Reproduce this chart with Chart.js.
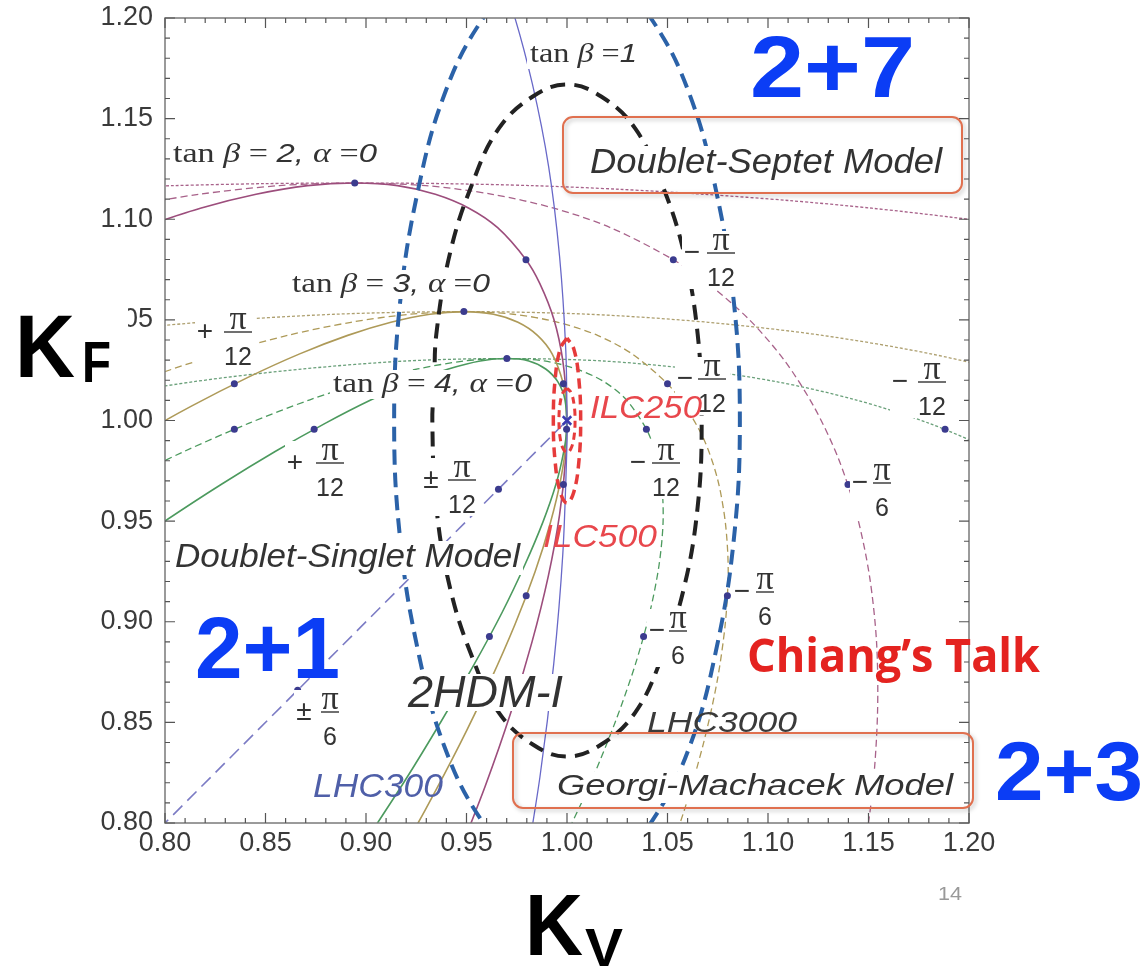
<!DOCTYPE html>
<html>
<head>
<meta charset="utf-8">
<script src="https://cdn.jsdelivr.net/npm/chart.js@4.4.1/dist/chart.umd.min.js"></script>
<style>
  html, body { margin: 0; padding: 0; background: #fff; }
  canvas { display: block; }
</style>
</head>
<body>
<canvas id="chart" width="1145" height="966"></canvas>
<script>
// axis ticks (both axes)
const tickValues = [0.80, 0.85, 0.90, 0.95, 1.00, 1.05, 1.10, 1.15, 1.20];
const tickLabels = ['0.80', '0.85', '0.90', '0.95', '1.00', '1.05', '1.10', '1.15', '1.20'];

// curves, points are [kappa_V, kappa_F]
const tb1TypeI = [[0.9596, 1.2411], [0.9724, 1.2056], [0.9828, 1.1671], [0.9909, 1.1259], [0.9963, 1.0816], [0.9994, 1.0348], [1.0, 1.0], [0.9999, 0.9853], [0.9979, 0.9334], [0.9934, 0.8791], [0.9865, 0.8226], [0.9771, 0.7641]];

const tb2TypeI = [[0.7877, 1.0958], [0.8176, 1.1055], [0.8453, 1.1124], [0.8709, 1.1167], [0.8944, 1.1180], [0.9157, 1.1167], [0.9345, 1.1124], [0.9512, 1.1055], [0.9655, 1.0958], [0.9796, 1.0799], [0.9865, 1.0680], [0.9935, 1.0502], [0.9979, 1.0298], [0.9998, 1.0066], [0.9993, 0.9812], [0.9963, 0.9531], [0.9907, 0.9227], [0.9826, 0.8900], [0.9721, 0.8550], [0.9592, 0.8180], [0.9439, 0.7789]];
const tb2GM = [[0.7753, 1.1055], [0.8170, 1.1124], [0.8568, 1.1167], [0.8944, 1.1180], [0.9298, 1.1167], [0.9628, 1.1124], [0.9935, 1.1055], [1.0217, 1.0958], [1.0529, 1.0799], [1.0702, 1.0680], [1.0906, 1.0502], [1.1082, 1.0298], [1.1230, 1.0066], [1.1350, 0.9812], [1.1442, 0.9531], [1.1505, 0.9227], [1.1540, 0.8900], [1.1545, 0.8550], [1.1522, 0.8180], [1.1470, 0.7789]];
const tb2Septet = [[0.7855, 1.1160], [0.8039, 1.1167], [0.8494, 1.1177], [0.8944, 1.1180], [0.9388, 1.1177], [0.9827, 1.1167], [1.0259, 1.1149], [1.0684, 1.1124], [1.1104, 1.1093], [1.1517, 1.1055], [1.1922, 1.1009], [1.2321, 1.0958]];

const tb3TypeI = [[0.7507, 0.9709], [0.7828, 0.9902], [0.8129, 1.0070], [0.8410, 1.0213], [0.8670, 1.0331], [0.8909, 1.0423], [0.9124, 1.0488], [0.9318, 1.0528], [0.9487, 1.0541], [0.9634, 1.0528], [0.9756, 1.0488], [0.9853, 1.0423], [0.9926, 1.0331], [0.9982, 1.0182], [0.9997, 1.0070], [0.9996, 0.9902], [0.9969, 0.9709], [0.9917, 0.9491], [0.9842, 0.9251], [0.9741, 0.8986], [0.9615, 0.8699], [0.9467, 0.8392], [0.9293, 0.8062], [0.9097, 0.7713]];
const tb3GM = [[0.7537, 1.0070], [0.7914, 1.0213], [0.8272, 1.0331], [0.8610, 1.0423], [0.8925, 1.0488], [0.9218, 1.0528], [0.9487, 1.0541], [0.9734, 1.0528], [0.9955, 1.0488], [1.0152, 1.0423], [1.0324, 1.0331], [1.0500, 1.0182], [1.0589, 1.0070], [1.0683, 0.9902], [1.0749, 0.9709], [1.0788, 0.9491], [1.0802, 0.9251], [1.0787, 0.8986], [1.0746, 0.8699], [1.0678, 0.8392], [1.0583, 0.8062], [1.0462, 0.7713]];
const tb3Septet = [[0.7491, 1.0423], [0.8178, 1.0488], [0.8844, 1.0528], [0.9487, 1.0541], [1.0108, 1.0528], [1.0702, 1.0488], [1.1271, 1.0423], [1.1811, 1.0331], [1.2321, 1.0213]];

const tb4TypeI = [[0.7351, 0.9046], [0.7680, 0.9282], [0.7992, 0.9495], [0.8281, 0.9683], [0.8550, 0.9847], [0.8799, 0.9987], [0.9026, 1.0103], [0.9230, 1.0193], [0.9410, 1.0256], [0.9568, 1.0296], [0.9701, 1.0308], [0.9810, 1.0296], [0.9894, 1.0256], [0.9954, 1.0193], [0.9990, 1.0103], [0.9998, 0.9957], [0.9984, 0.9847], [0.9945, 0.9683], [0.9880, 0.9495], [0.9790, 0.9282], [0.9677, 0.9046], [0.9538, 0.8788], [0.9375, 0.8507], [0.9191, 0.8206], [0.8981, 0.7884]];
const tb4GM = [[0.7755, 0.9683], [0.8097, 0.9847], [0.8419, 0.9987], [0.8721, 1.0103], [0.9000, 1.0193], [0.9257, 1.0256], [0.9491, 1.0296], [0.9701, 1.0308], [0.9887, 1.0296], [1.0047, 1.0256], [1.0184, 1.0193], [1.0295, 1.0103], [1.0395, 0.9957], [1.0437, 0.9847], [1.0471, 0.9683], [1.0478, 0.9495], [1.0458, 0.9282], [1.0412, 0.9046], [1.0340, 0.8788], [1.0242, 0.8507], [1.0120, 0.8206], [0.9970, 0.7884]];
const tb4Septet = [[0.7580, 1.0103], [0.8143, 1.0193], [0.8684, 1.0256], [0.9204, 1.0296], [0.9701, 1.0308], [1.0174, 1.0296], [1.0620, 1.0256], [1.1041, 1.0193], [1.1436, 1.0103], [1.1799, 0.9987], [1.2134, 0.9847]];

const singlet = [[0.79, 0.79], [1.0, 1.0]];

// alpha = 0, +-pi/12, +-pi/6 markers
const markers = [[0.8944, 1.1180], [0.9796, 1.0799], [0.9982, 0.9682], [1.0529, 1.0799], [1.1398, 0.9682],
  [0.9487, 1.0541], [0.8345, 1.0182], [0.9982, 1.0182], [0.9797, 0.9129], [1.0500, 1.0182], [1.0798, 0.9129],
  [0.9701, 1.0308], [0.8742, 0.9957], [0.9998, 0.9957], [0.9614, 0.8927], [0.8345, 0.9957], [1.0395, 0.9957], [1.0381, 0.8927], [1.1881, 0.9957],
  [0.9659, 0.9659], [0.8660, 0.8660]];
const smPoint = [[1.0, 1.0]];

// expected precision contours
const lhc300 = [[1.000, 1.229], [0.978, 1.221], [0.957, 1.198], [0.939, 1.162], [0.926, 1.115], [0.917, 1.059], [0.914, 1.000], [0.917, 0.941], [0.926, 0.885], [0.939, 0.838], [0.957, 0.802], [0.978, 0.779], [1.000, 0.771], [1.022, 0.779], [1.043, 0.802], [1.061, 0.838], [1.074, 0.885], [1.083, 0.941], [1.086, 1.000], [1.083, 1.059], [1.074, 1.115], [1.061, 1.162], [1.043, 1.198], [1.022, 1.221], [1.000, 1.229]];
const lhc3000 = [[0.934, 1.017], [0.935, 1.043], [0.942, 1.084], [0.953, 1.118], [0.966, 1.145], [0.983, 1.161], [1.000, 1.167], [1.017, 1.161], [1.034, 1.145], [1.047, 1.118], [1.058, 1.084], [1.065, 1.043], [1.067, 1.000], [1.065, 0.957], [1.058, 0.916], [1.047, 0.882], [1.034, 0.855], [1.017, 0.839], [1.000, 0.833], [0.983, 0.839], [0.966, 0.855], [0.953, 0.882], [0.942, 0.916], [0.935, 0.957], [0.933, 1.000], [0.934, 1.017]];
const ilc250 = [[1.0, 1.041], [0.9966, 1.0355], [0.9941, 1.0205], [0.9932, 1.0], [0.9941, 0.9795], [0.9966, 0.9645], [1.0, 0.959], [1.0034, 0.9645], [1.0059, 0.9795], [1.0068, 1.0], [1.0059, 1.0205], [1.0034, 1.0355], [1.0, 1.041]];
const ilc500 = [[1.0, 1.016], [0.998, 1.0139], [0.9965, 1.008], [0.996, 1.0], [0.9965, 0.992], [0.998, 0.9861], [1.0, 0.984], [1.002, 0.9861], [1.0035, 0.992], [1.004, 1.0], [1.0035, 1.008], [1.002, 1.0139], [1.0, 1.016]];

const serif = '"Liberation Serif", "DejaVu Serif", serif';
const sans = '"Liberation Sans", Arial, sans-serif';

const purple = '#9c4d7c';
const olive = '#ae9a58';
const green = '#4c9a5e';

function curve(points, color, width, dash, tension) {
    return {
        data: points.map(p => ({ x: p[0], y: p[1] })),
        showLine: true,
        borderColor: color,
        borderWidth: width,
        borderDash: dash,
        pointRadius: 0,
        tension: tension,
        fill: false,
        clip: 0
    };
}

function fitText(ctx, runs, x, y, width, color, bg) {
    let natural = 0;
    runs.forEach(r => { ctx.font = r[1]; natural += ctx.measureText(r[0]).width; });
    if (bg) {
        ctx.fillStyle = '#fff';
        ctx.fillRect(x - 3, y - bg[0], width + 6, bg[0] + bg[1]);
    }
    ctx.save();
    ctx.translate(x, y);
    ctx.scale(width / natural, 1);
    ctx.fillStyle = color;
    ctx.textAlign = 'left';
    ctx.textBaseline = 'alphabetic';
    let cx = 0;
    runs.forEach(r => {
        ctx.font = r[1];
        ctx.fillText(r[0], cx, 0);
        cx += ctx.measureText(r[0]).width;
    });
    ctx.restore();
}

function drawFrac(ctx, f) {
    const [sign, sx, cx, ly, den] = f;
    const half = den.length > 1 ? 14 : 9;
    ctx.fillStyle = '#fff';
    ctx.fillRect(sx - 10, ly - 22, cx + half + 4 - (sx - 10), 58);
    ctx.fillStyle = '#333';
    ctx.strokeStyle = '#333';
    ctx.lineWidth = 1.4;
    ctx.beginPath();
    ctx.moveTo(cx - half, ly);
    ctx.lineTo(cx + half, ly);
    ctx.stroke();
    ctx.textAlign = 'center';
    ctx.textBaseline = 'alphabetic';
    ctx.font = '34px ' + serif;
    ctx.fillText('π', cx, ly - 3);
    ctx.font = '25px ' + sans;
    ctx.fillText(den, cx, ly + 33);
    ctx.font = '28px ' + sans;
    ctx.textBaseline = 'middle';
    ctx.fillText(sign, sx, ly);
}

function tanRuns(n, withAlpha) {
    const s = '27px ' + serif, si = 'italic 27px ' + serif, ni = 'italic 26px ' + sans;
    if (!withAlpha) return [['tan ', s], ['β', si], [' =', s], [n, ni]];
    return [['tan ', s], ['β', si], [' = ', s], [n + ', ', ni], ['α', si], [' =', s], ['0', ni]];
}

const annotations = {
    id: 'annotations',
    afterDraw(chart) {
        const { ctx, chartArea: a, scales: { x, y } } = chart;
        ctx.save();

        // frame with inside ticks
        ctx.strokeStyle = '#7a7a7a';
        ctx.lineWidth = 1.5;
        ctx.strokeRect(a.left, a.top, a.right - a.left, a.bottom - a.top);
        ctx.strokeStyle = '#555';
        ctx.lineWidth = 1.2;
        ctx.beginPath();
        for (let k = 80; k <= 120; k++) {
            const len = k % 5 === 0 ? 10 : 5;
            const px = x.getPixelForValue(k / 100);
            const py = y.getPixelForValue(k / 100);
            ctx.moveTo(px, a.bottom); ctx.lineTo(px, a.bottom - len);
            ctx.moveTo(px, a.top); ctx.lineTo(px, a.top + len);
            ctx.moveTo(a.left, py); ctx.lineTo(a.left + len, py);
            ctx.moveTo(a.right, py); ctx.lineTo(a.right - len, py);
        }
        ctx.stroke();

        // model boxes
        ctx.save();
        ctx.shadowColor = 'rgba(0,0,0,0.25)';
        ctx.shadowBlur = 4;
        ctx.shadowOffsetX = 2;
        ctx.shadowOffsetY = 2;
        ctx.strokeStyle = '#e0704f';
        ctx.lineWidth = 2;
        ctx.beginPath();
        ctx.roundRect(563, 117, 399, 76, 10);
        ctx.roundRect(513, 733, 460, 75, 10);
        ctx.stroke();
        ctx.restore();

        // tan beta labels
        fitText(ctx, tanRuns('2', true), 173, 162, 204, '#333', [22, 7]);
        fitText(ctx, tanRuns('1', false), 530, 62, 107, '#333', [22, 7]);
        fitText(ctx, tanRuns('3', true), 292, 292, 198, '#333', [22, 7]);
        fitText(ctx, tanRuns('4', true), 333, 392, 199, '#333', [22, 7]);

        // alpha labels
        [['+', 205, 238, 332, '12'], ['+', 295, 330, 463, '12'], ['±', 431, 462, 480, '12'],
         ['−', 692, 721, 253, '12'], ['−', 685, 712, 379, '12'], ['−', 638, 666, 463, '12'],
         ['−', 900, 932, 382, '12'], ['−', 860, 882, 483, '6'], ['−', 742, 765, 592, '6'],
         ['−', 657, 678, 631, '6'], ['±', 304, 330, 712, '6']].forEach(f => drawFrac(ctx, f));

        // model names
        const it = s => 'italic ' + s + 'px ' + sans;
        fitText(ctx, [['Doublet-Septet Model', it(35)]], 590, 173, 352, '#333', [27, 9]);
        fitText(ctx, [['Georgi-Machacek Model', it(30)]], 557, 795, 396, '#333', [23, 8]);
        fitText(ctx, [['Doublet-Singlet Model', it(33)]], 175, 567, 345, '#333', [26, 8]);
        fitText(ctx, [['2HDM-I', it(44)]], 408, 707, 155, '#333', [33, 4]);
        fitText(ctx, [['LHC3000', it(30)]], 647, 732, 150, '#3a3a3a', null);
        fitText(ctx, [['LHC300', it(33)]], 313, 797, 130, '#4f5fa8', null);
        fitText(ctx, [['ILC250', it(32)]], 590, 418, 112, '#e8474c', null);
        fitText(ctx, [['ILC500', it(32)]], 543, 547, 114, '#e8474c', null);

        // overlay text
        const bold = s => 'bold ' + s + 'px ' + sans;
        fitText(ctx, [['2+7', bold(87)]], 750, 97, 165, '#0b3df5', null);
        fitText(ctx, [['2+1', bold(87)]], 195, 678, 145, '#0b3df5', null);
        fitText(ctx, [['2+3', bold(84)]], 995, 800, 148, '#0b3df5', null);
        fitText(ctx, [['Chiang’s Talk', 'bold 47px "Open Sans", ' + sans]], 747, 672, 293, '#e42320', null);

        // axis titles
        ctx.fillStyle = '#fff';
        ctx.fillRect(0, 298, 128, 95);
        fitText(ctx, [['K', bold(89)]], 15, 377, 60, '#000', null);
        fitText(ctx, [['F', bold(58)]], 82, 382, 29, '#000', null);
        fitText(ctx, [['K', bold(88)]], 525, 955, 58, '#000', null);
        fitText(ctx, [['V', bold(54)]], 585, 966, 38, '#000', null);
        fitText(ctx, [['14', '18px ' + sans]], 938, 900, 24, '#999', null);

        ctx.restore();
    }
};

const ctx = document.getElementById('chart');

const chart = new Chart(ctx, {
    type: 'scatter',
    data: {
        datasets: [
            {
                data: markers.map(p => ({ x: p[0], y: p[1] })),
                pointRadius: 3.5,
                pointBackgroundColor: '#3b3b8e',
                pointBorderColor: '#3b3b8e',
                pointBorderWidth: 0,
                clip: 0
            },
            {
                data: smPoint.map(p => ({ x: p[0], y: p[1] })),
                pointStyle: 'crossRot',
                pointRadius: 6,
                pointBorderColor: '#3b3bb0',
                pointBorderWidth: 2.5,
                clip: 0
            },
            curve(ilc250, '#e63b3b', 3.5, [10, 6], 0.4),
            curve(ilc500, '#e63b3b', 3, [7, 5], 0.4),
            curve(lhc3000, '#222222', 4, [15, 9], 0.4),
            curve(lhc300, '#2b62a8', 4, [15, 8], 0.4),
            curve(tb1TypeI, '#6868c8', 1.3, [], 0.3),
            curve(singlet, '#7b7bc4', 1.6, [13, 7], 0),
            curve(tb4TypeI, green, 1.6, [], 0.3),
            curve(tb3TypeI, olive, 1.6, [], 0.3),
            curve(tb2TypeI, purple, 1.6, [], 0.3),
            curve(tb4GM, green, 1.3, [7, 4], 0.3),
            curve(tb3GM, olive, 1.3, [7, 4], 0.3),
            curve(tb2GM, '#a8628a', 1.3, [7, 4], 0.3),
            curve(tb4Septet, '#6aa07a', 1.3, [3, 2], 0.3),
            curve(tb3Septet, '#aea070', 1.3, [3, 2], 0.3),
            curve(tb2Septet, '#a8628a', 1.3, [3, 2], 0.3)
        ]
    },
    options: {
        responsive: false,
        animation: false,
        events: [],
        layout: { padding: { left: 0, top: 18, right: 176, bottom: 0 } },
        elements: { line: { capBezierPoints: false } },
        plugins: {
            legend: { display: false },
            tooltip: { enabled: false }
        },
        scales: {
            x: {
                type: 'linear',
                min: 0.8,
                max: 1.2,
                afterBuildTicks: axis => { axis.ticks = tickValues.map(v => ({ value: v })); },
                afterFit: axis => { axis.height = 143; axis.paddingLeft = 0; axis.paddingRight = 0; },
                grid: { display: false, drawTicks: false },
                border: { display: false },
                ticks: {
                    callback: (v, i) => tickLabels[i],
                    font: { family: 'Liberation Sans', size: 27 },
                    color: '#3a3a3a',
                    padding: 4,
                    maxRotation: 0,
                    autoSkip: false
                }
            },
            y: {
                type: 'linear',
                min: 0.8,
                max: 1.2,
                afterBuildTicks: axis => { axis.ticks = tickValues.map(v => ({ value: v })); },
                afterFit: axis => { axis.width = 165; axis.paddingTop = 0; axis.paddingBottom = 0; },
                grid: { display: false, drawTicks: false },
                border: { display: false },
                ticks: {
                    callback: (v, i) => tickLabels[i],
                    font: { family: 'Liberation Sans', size: 27 },
                    color: '#3a3a3a',
                    padding: 12,
                    autoSkip: false
                }
            }
        }
    },
    plugins: [annotations]
});
</script>
</body>
</html>
